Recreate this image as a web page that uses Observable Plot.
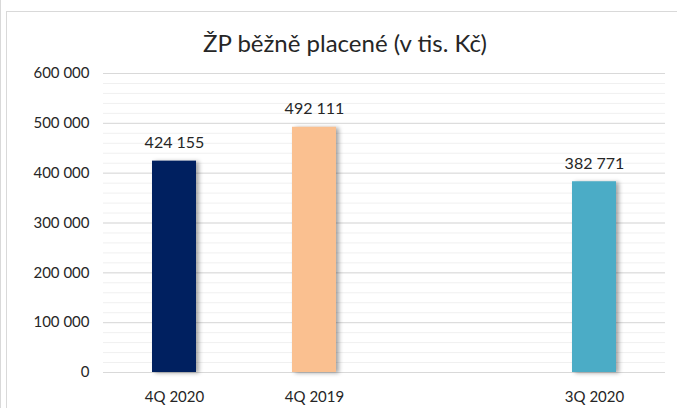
<!DOCTYPE html>
<html>
<head>
<meta charset="utf-8">
<script src="https://cdn.jsdelivr.net/npm/d3@7"></script>
<script src="https://cdn.jsdelivr.net/npm/@observablehq/plot@0.6"></script>
<style>
  html, body { margin: 0; padding: 0; background: #fff; }
  #wrap { position: relative; width: 677px; height: 408px; overflow: hidden; font-family: Lato, "Open Sans", sans-serif; }
  #outer { position: absolute; left: 0; top: 0; width: 1px; height: 408px; background: #d9d9d9; }
  #frame { position: absolute; left: 6px; top: 11px; width: 700px; height: 420px; border-left: 1px solid #d9d9d9; border-top: 1px solid #d9d9d9; box-sizing: border-box; }
  #title { position: absolute; left: 0; width: 690px; top: 28px; text-align: center; font-size: 24px; color: #262626; white-space: nowrap; }
  #chart { position: absolute; left: 0; top: 0; }
</style>
</head>
<body>
<div id="wrap">
  <div id="outer"></div>
  <div id="frame"></div>
  <div id="title">ŽP běžně placené (v tis. Kč)</div>
  <div id="chart"></div>
</div>
<script>
const categories = ["4Q 2020", "4Q 2019", " ", "3Q 2020"];
const barCategories = ["4Q 2020", "4Q 2019", "3Q 2020"];
const values = [424155, 492111, 382771];
const colors = ["#002060", "#FAC090", "#4BACC6"];
const majorTicks = [0, 100000, 200000, 300000, 400000, 500000, 600000];
const minorTicks = d3.range(0, 600001, 20000);

const data = barCategories.map((c, i) => ({cat: c, value: values[i], color: colors[i]}));
const fmt = v => d3.format(",")(v).replace(/,/g, "\u00a0");

const chart = Plot.plot({
  width: 677,
  height: 408,
  marginTop: 73,
  marginBottom: 36,
  marginLeft: 103,
  marginRight: 12,
  style: {fontFamily: "Lato, 'Open Sans', sans-serif", background: "transparent"},
  x: {domain: categories, paddingInner: 0.686, paddingOuter: 0.343, label: null, tickSize: 0, tickPadding: 19},
  y: {domain: [0, 600000], label: null, ticks: majorTicks, tickSize: 0, tickPadding: 14, tickFormat: fmt},
  marks: [
    Plot.ruleY(minorTicks, {stroke: "#f0f0f0", strokeWidth: 1}),
    Plot.ruleY(majorTicks, {stroke: "#d9d9d9", strokeWidth: 1}),
    Plot.barY(data, {x: "cat", y: "value", fill: "color"}),
    Plot.text(data, {x: "cat", y: "value", text: d => fmt(d.value), dy: -18, fontSize: 16, fill: "#262626"})
  ]
});
document.getElementById("chart").appendChild(chart);

const svg = d3.select(chart);
svg.selectAll("g[aria-label='bar'] rect").style("filter", "drop-shadow(3px 1px 2px rgba(0,0,0,0.35))");
svg.selectAll("g[aria-label='y-axis tick label'] text, g[aria-label='x-axis tick label'] text")
  .style("font-size", "15px").attr("fill", "#262626");
</script>
</body>
</html>
